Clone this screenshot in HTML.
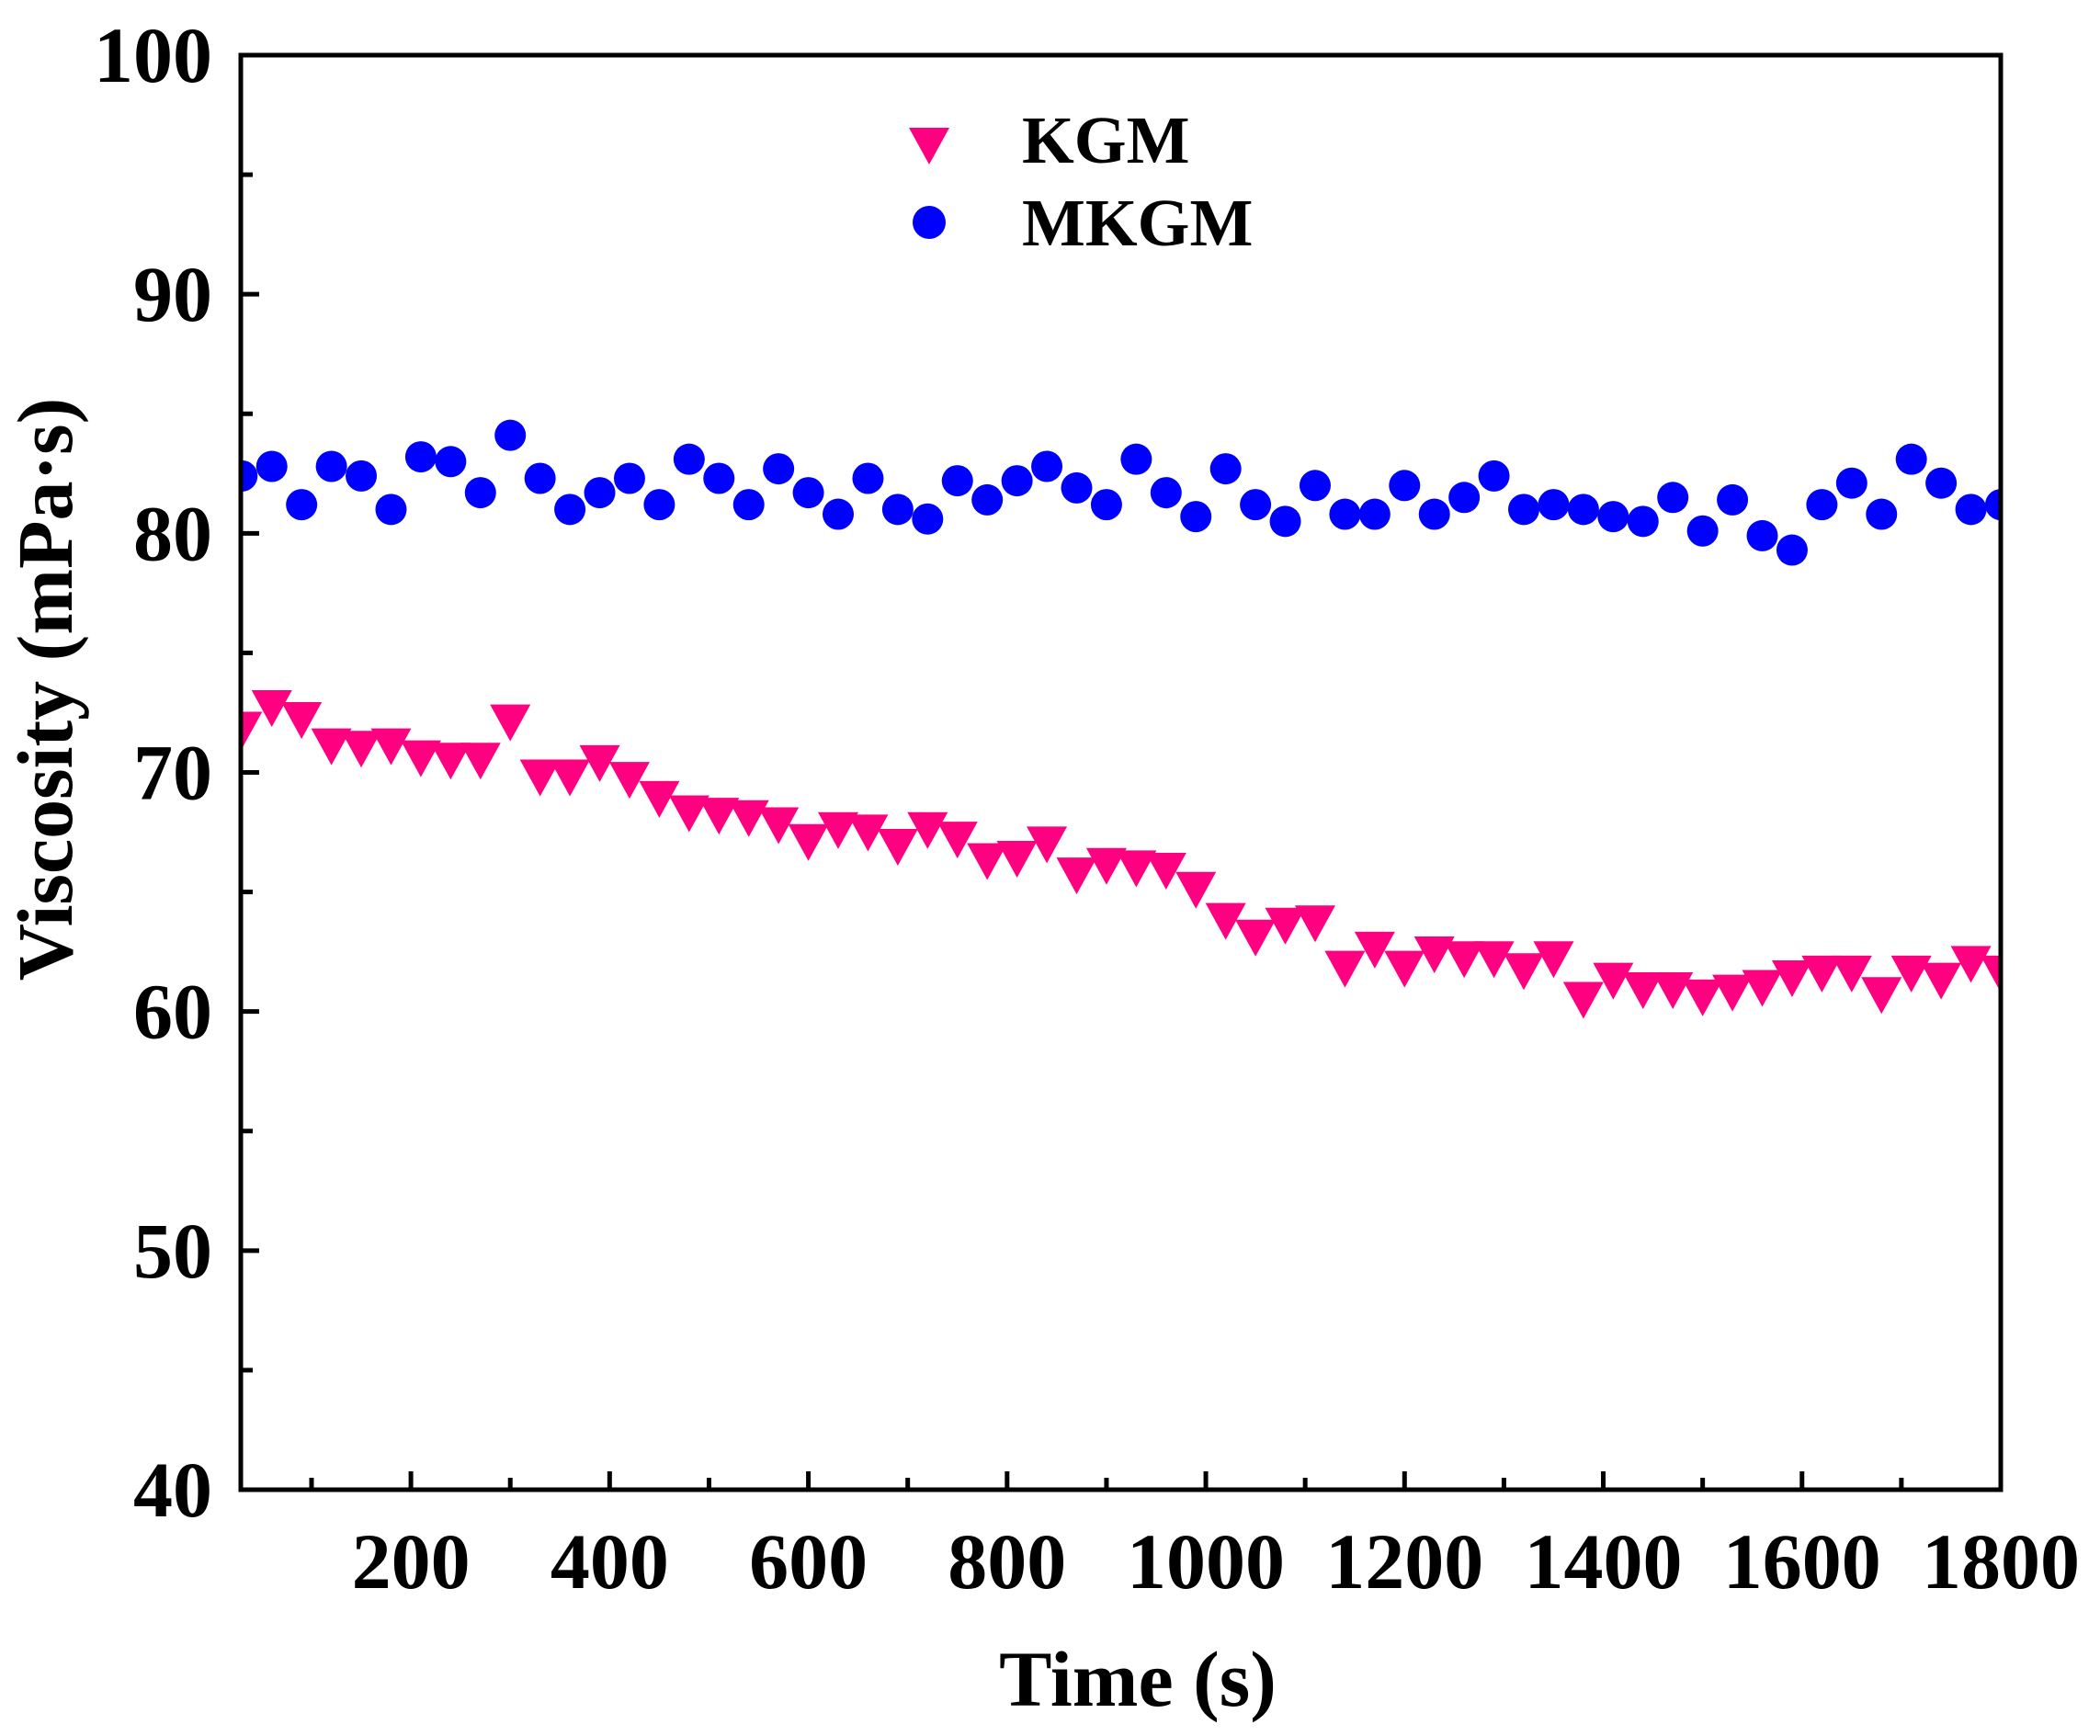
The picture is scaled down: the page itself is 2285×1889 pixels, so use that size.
<!DOCTYPE html>
<html><head><meta charset="utf-8"><style>
html,body{margin:0;padding:0;background:#fff;}
svg{display:block;font-family:"Liberation Serif",serif;font-weight:bold;}
</style></head><body>
<svg id="chart" width="2285" height="1889" viewBox="0 0 2285 1889" xmlns="http://www.w3.org/2000/svg">
<defs><clipPath id="plotclip"><rect x="262" y="60" width="1915" height="1561"/></clipPath></defs>
<g id="grid"></g>
<g id="marks" clip-path="url(#plotclip)"></g>
<rect x="262" y="60" width="1915" height="1561" fill="none" stroke="#000" stroke-width="5"/>
<g>
<polygon points="989,139 1033,139 1011,179" fill="#ff0080"/>
<text x="1112" y="177" font-size="73">KGM</text>
<circle cx="1011" cy="242" r="18" fill="#0000ff"/>
<text x="1112" y="267" font-size="73">MKGM</text>
</g>
<text x="1238" y="1856" font-size="86" text-anchor="middle">Time (s)</text>
<text transform="translate(78,750) rotate(-90)" font-size="86" text-anchor="middle">Viscosity (mPa·s)</text>
</svg>
<script>
const times = [30,60,90,120,150,180,210,240,270,300,330,360,390,420,450,480,510,540,570,600,630,660,690,720,750,780,810,840,870,900,930,960,990,1020,1050,1080,1110,1140,1170,1200,1230,1260,1290,1320,1350,1380,1410,1440,1470,1500,1530,1560,1590,1620,1650,1680,1710,1740,1770,1800];
const mkgm = [82.4,82.8,81.2,82.8,82.4,81.0,83.2,83.0,81.7,84.1,82.3,81.0,81.7,82.3,81.2,83.1,82.3,81.2,82.7,81.7,80.8,82.3,81.0,80.6,82.2,81.4,82.2,82.8,81.9,81.2,83.1,81.7,80.7,82.7,81.2,80.5,82.0,80.8,80.8,82.0,80.8,81.5,82.4,81.0,81.2,81.0,80.7,80.5,81.5,80.1,81.4,79.9,79.3,81.2,82.1,80.8,83.1,82.1,81.0,81.2];
const kgm = [72.0,72.9,72.4,71.3,71.2,71.3,70.8,70.7,70.7,72.3,70.0,70.0,70.6,69.9,69.1,68.5,68.4,68.3,68.0,67.3,67.8,67.7,67.1,67.8,67.4,66.5,66.6,67.2,65.9,66.3,66.2,66.1,65.3,64.0,63.3,63.8,63.9,62.0,62.8,62.0,62.6,62.4,62.4,61.9,62.4,60.7,61.5,61.1,61.1,60.8,61.0,61.2,61.6,61.8,61.8,60.9,61.8,61.5,62.2,61.8];
const xTicks = [200,400,600,800,1000,1200,1400,1600,1800];
const xMinor = [100,300,500,700,900,1100,1300,1500,1700];
const yTicks = [40,50,60,70,80,90,100];
const yMinor = [45,55,65,75,85,95];

const NS = "http://www.w3.org/2000/svg";
const X0 = 262, X1 = 2177, Y0 = 1621, Y1 = 60;
const xMin = 28.8, xMax = 1800, yMin = 40, yMax = 100;
function xs(v){ return X0 + (v - xMin) / (xMax - xMin) * (X1 - X0); }
function ys(v){ return Y0 - (v - yMin) / (yMax - yMin) * (Y0 - Y1); }
function mk(tag, attrs, parent){ const e = document.createElementNS(NS, tag); for (const k in attrs) e.setAttribute(k, attrs[k]); parent.appendChild(e); return e; }

const grid = document.getElementById('grid');
const marks = document.getElementById('marks');

xTicks.forEach(t => {
  const x = xs(t);
  const l = mk('line', {x1:x, x2:x, y1:Y0, y2:Y0-20, stroke:'#000', 'stroke-width':5}, grid);
  
  
  const tx = mk('text', {x:x, y:1728, 'font-size':86, 'text-anchor':'middle'}, grid);
  tx.textContent = t;
  
  
});
xMinor.forEach(t => {
  const x = xs(t);
  const l = mk('line', {x1:x, x2:x, y1:Y0, y2:Y0-13, stroke:'#000', 'stroke-width':5}, grid);
  
  
});
yTicks.forEach(t => {
  const y = ys(t);
  const l = mk('line', {x1:X0, x2:X0+20, y1:y, y2:y, stroke:'#000', 'stroke-width':5}, grid);
  
  
  const tx = mk('text', {x:231, y:y+29, 'font-size':86, 'text-anchor':'end'}, grid);
  tx.textContent = t;
  
  
});
yMinor.forEach(t => {
  const y = ys(t);
  const l = mk('line', {x1:X0, x2:X0+13, y1:y, y2:y, stroke:'#000', 'stroke-width':5}, grid);
  
  
});

times.forEach((t, i) => {
  const x = xs(t), y = ys(mkgm[i]);
  const c = mk('circle', {cx:x, cy:y, r:17, fill:'#0000ff'}, marks);
  
  
});
times.forEach((t, i) => {
  const x = xs(t), y = ys(kgm[i]);
  const p = mk('polygon', {points:`${x-22},${y-14} ${x+22},${y-14} ${x},${y+26}`, fill:'#ff0080'}, marks);
  
  
});
</script>
</body></html>
